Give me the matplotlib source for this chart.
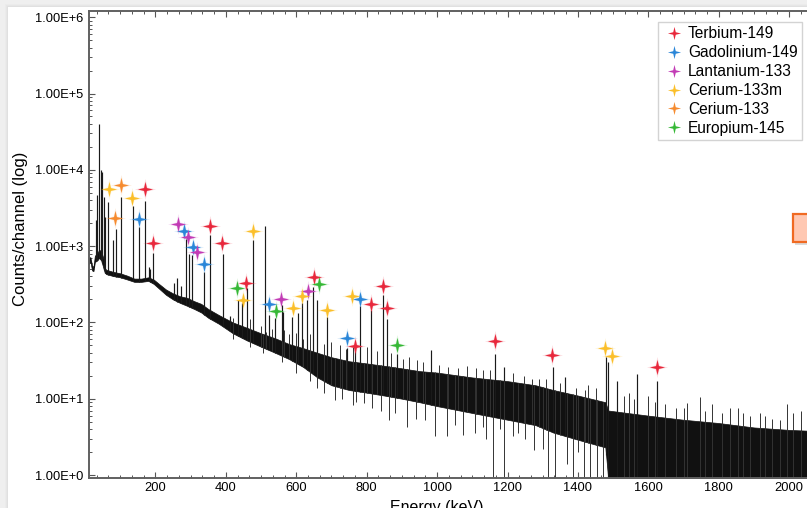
import matplotlib
matplotlib.use("Agg")
import matplotlib.pyplot as plt
import numpy as np
from matplotlib.path import Path
from matplotlib.patches import Rectangle
from matplotlib.lines import Line2D
from matplotlib.ticker import FuncFormatter, LogLocator, MultipleLocator

plt.rcParams["font.family"] = ["Liberation Sans", "DejaVu Sans"]

# Continuum band of the spectrum (upper / lower edge, counts per channel)
band_e = [11, 15, 20, 24, 28, 35, 40, 46, 52, 56, 60, 80, 100, 120, 140,
          160, 180, 195, 210, 230, 250, 270, 290, 310, 330, 350, 380, 420,
          460, 500, 540, 580, 620, 660, 700, 750, 800, 850, 900, 950, 1000,
          1100, 1200, 1280, 1330, 1400, 1478, 1486, 1600, 1700, 1800, 1900,
          2000, 2120]
band_hi = [680, 720, 560, 530, 750, 800, 900, 850, 700, 520, 490, 460, 440,
           410, 375, 375, 390, 365, 320, 270, 240, 220, 210, 190, 175, 150,
           125, 100, 85, 72, 62, 52, 46, 40, 35, 31, 29, 27, 25, 23, 22, 19,
           17, 15, 13, 11, 9, 7, 6, 5.3, 4.8, 4.2, 3.9, 3.7]
band_lo = [580, 640, 480, 470, 620, 650, 700, 650, 520, 450, 430, 405, 390,
           365, 340, 340, 350, 320, 278, 230, 200, 180, 165, 150, 135, 115,
           96, 72, 58, 48, 40, 33, 26, 19, 15, 13, 12, 11, 10, 9, 8, 6.5,
           5.3, 4.5, 3.6, 2.9, 2.3, 0.9, 0.9, 0.9, 0.9, 0.9, 0.9, 0.9]

# Photopeaks (energy in keV, counts at the top of the line)
peak_e = [30.4, 35, 38.9, 44.6, 48.3, 54, 56, 65, 80, 88, 103, 135.5, 154.5,
          170, 181, 186, 192.6, 252, 262, 273, 287.5, 296, 305, 337.7, 354.6,
          390.6, 412, 434, 445.4, 459.7, 476.5, 511, 523.6, 541, 558.8, 561.6,
          587, 606, 615.6, 631.5, 648.6, 658, 686.6, 743.5, 767, 781, 813,
          846, 857, 887, 982, 1165, 1189, 1328, 1364, 1480, 1486, 1511, 1567,
          1625]
peak_top = [2200, 4680, 39500, 9940, 9440, 4440, 2430, 3820, 1200, 1660,
            4440, 3390, 1760, 3900, 540, 500, 820, 330, 380, 300, 1230, 800,
            760, 460, 1400, 800, 120, 196, 178, 280, 1200, 1840, 125, 113,
            169, 138, 119, 134, 178, 196, 288, 196, 119, 46, 43, 164, 145,
            230, 110, 39, 43, 39, 25.7, 25.7, 19.4, 35.6, 30.5, 17, 21, 17]

# Upward noise spikes above the band
spike_e = [420, 470, 500, 515, 530, 565, 580, 600, 620, 640, 680, 700, 725,
           740, 760, 800, 830, 870, 904, 920, 942, 960, 1005, 1032, 1060,
           1084, 1110, 1130, 1150, 1215, 1246, 1270, 1290, 1310, 1350, 1395,
           1420, 1430, 1450, 1530, 1545, 1560, 1600, 1620, 1648, 1680, 1700,
           1709, 1747, 1760, 1780, 1810, 1832, 1855, 1870, 1890, 1918, 1930,
           1950, 1974, 1994, 2010, 2035]
spike_top = [115, 110, 90, 75, 83, 80, 70, 72, 60, 70, 52, 55, 50, 45, 48,
             47, 42, 40, 33, 35, 32, 30, 28, 26, 25, 27, 25, 24, 24, 22, 20,
             18, 18, 18, 16, 14, 13, 15, 14, 11, 12, 10, 11, 9, 8.5, 7.5, 7.5,
             8.8, 10.6, 7, 8.4, 6.5, 7.5, 7.5, 6.5, 6, 6.5, 6, 5.5, 5.3, 8.4,
             6.5, 7]
# Downward dips below the band
dip_e = [420, 470, 505, 560, 600, 640, 660, 680, 710, 730, 762, 770, 791,
         814, 840, 862, 880, 914, 940, 966, 994, 1027, 1050, 1075, 1108,
         1130, 1140, 1160, 1180, 1190, 1217, 1230, 1250, 1274, 1300, 1316,
         1335, 1368, 1385, 1400, 1416, 1435, 1454, 1470]
dip_lo = [60, 48, 40, 30, 22, 17, 14, 12, 9.6, 10, 8.3, 9, 8.7, 7.5, 7,
          5.3, 6.5, 4.3, 5.5, 5.3, 3.2, 3.2, 4.5, 3.3, 3.5, 4.2, 3.0, 0.9,
          4.0, 0.9, 3.2, 3.5, 3.0, 2.1, 2.2, 0.9, 0.9, 1.4, 0.9, 2.0, 0.9,
          0.9, 0.9, 0.9]

# Identified lines per isotope
tb_e = [169.6, 192, 355, 390, 457, 651, 767, 811.6, 845, 859, 1165, 1327.6, 1626]
tb_c = [5650, 1090, 1850, 1090, 331, 390, 49.5, 173, 302, 153, 57, 37.7, 25.8]
gd_e = [154, 282, 307.7, 339, 523.6, 744, 782]
gd_c = [2265, 1590, 982, 577, 174, 63, 203]
la_e = [263, 293.5, 317, 557, 632.7]
la_c = [1930, 1300, 830, 201, 260]
ce133m_e = [69, 133.5, 476, 450, 592, 615.6, 688, 757.7, 1478, 1497]
ce133m_c = [5550, 4310, 1580, 197, 153, 224, 145, 224, 46, 36]
ce133_e = [85, 102]
ce133_c = [2310, 6270]
eu_e = [431, 541.8, 665.6, 887]
eu_c = [280, 141, 319, 51]

isotopes = [
    ("Terbium-149", tb_e, tb_c, "#e8283c"),
    ("Gadolinium-149", gd_e, gd_c, "#2a86d8"),
    ("Lantanium-133", la_e, la_c, "#c23bb5"),
    ("Cerium-133m", ce133m_e, ce133m_c, "#fbbf2a"),
    ("Cerium-133", ce133_e, ce133_c, "#f68b2f"),
    ("Europium-145", eu_e, eu_c, "#36b836"),
]

W, H = 807, 508
fig = plt.figure(figsize=(W / 100, H / 100), dpi=100)
fig.patch.set_facecolor("#efefef")
# white slide panel with a soft shadow
for off, a in [(3, 0.05), (2, 0.07), (1, 0.1)]:
    fig.add_artist(Rectangle(((8 - off) / W, 0), 1, (H - 7 + off) / H,
                             transform=fig.transFigure, fc="#b0b0b0",
                             alpha=a, ec="none", zorder=-3))
fig.add_artist(Rectangle((8 / W, 0), 1, (H - 7) / H, transform=fig.transFigure,
                         fc="white", ec="none", zorder=-2))

ax = fig.add_axes([88.5 / W, (H - 477.7) / H, (830 - 88.5) / W, (477.7 - 11) / H])
ax.set_facecolor("none")
ax.set_yscale("log")
ax.set_xlim(9.9, 2116)
ax.set_ylim(0.922, 1.206e6)

be = np.array(band_e, float)
lhi = np.log10(band_hi)
llo = np.log10(band_lo)

ax.fill_between(band_e, band_lo, band_hi, color="#111111", lw=0.5, zorder=2)

# peaks rise from the band, noise spikes stick out of its edges
base = 10 ** np.interp(peak_e, be, llo)
ax.vlines(peak_e, base, peak_top, color="#1a1a1a", lw=0.85, zorder=2)
base = 10 ** np.interp(spike_e, be, llo)
ax.vlines(spike_e, base, spike_top, color="#333333", lw=0.7, zorder=2)
top = 10 ** np.interp(dip_e, be, lhi)
ax.vlines(dip_e, dip_lo, top, color="#333333", lw=0.7, zorder=2)

star = Path.unit_regular_star(4, 0.27)
handles = []
for name, e, c, col in isotopes:
    ax.scatter(e, c, marker=star, s=230, color=col, alpha=0.16, lw=0, zorder=4)
    ax.scatter(e, c, marker=star, s=120, color=col, lw=0, zorder=5)
    handles.append(Line2D([], [], marker=star, ls="none", color=col,
                          markersize=9.5, markeredgewidth=0, label=name))

ax.yaxis.set_major_locator(LogLocator(base=10, numticks=12))
ax.yaxis.set_major_formatter(FuncFormatter(lambda v, p: f"1.00E+{int(round(np.log10(v)))}"))
ax.xaxis.set_major_locator(MultipleLocator(200))
ax.xaxis.set_minor_locator(MultipleLocator(100 / 3))
ax.tick_params(which="both", direction="in", top=True, right=False,
               colors="#555555", labelcolor="black", labelsize=9.3)
ax.tick_params(which="major", length=4, width=0.8)
ax.tick_params(which="minor", length=2.2, width=0.7)
ax.tick_params(axis="y", pad=4)
ax.tick_params(axis="x", pad=3)
for s in ax.spines.values():
    s.set_color("#606060")
    s.set_linewidth(1.4)
ax.spines["right"].set_visible(False)

ax.set_ylabel("Counts/channel (log)", fontsize=12)
ax.yaxis.set_label_coords(-0.082, 0.533)
ax.set_xlabel("Energy (keV)", fontsize=11.5)
ax.xaxis.set_label_coords(0.47, -0.048)

leg = ax.legend(handles=handles, loc="upper right",
                bbox_to_anchor=(802 / W, (H - 22) / H),
                bbox_transform=fig.transFigure, fontsize=11.2, frameon=True,
                fancybox=False, borderpad=0.28, labelspacing=0.25,
                handlelength=1.5, handletextpad=0.15, borderaxespad=0)
leg.get_frame().set_edgecolor("#c8c8c8")
leg.get_frame().set_linewidth(1.0)
leg.set_zorder(6)

# orange callout box clipped at the right edge
fig.add_artist(Rectangle((795 / W, (H - 244.5) / H), 20 / W, 27.4 / H,
                         transform=fig.transFigure, fc="#999999", alpha=0.35,
                         ec="none", zorder=7))
fig.add_artist(Rectangle((792.5 / W, (H - 241.7) / H), 20 / W, 27.4 / H,
                         transform=fig.transFigure, fc="#ffc8b2",
                         ec="#f06a22", lw=1.6, zorder=8))

fig.savefig("out.png", dpi=100, facecolor=fig.get_facecolor())
